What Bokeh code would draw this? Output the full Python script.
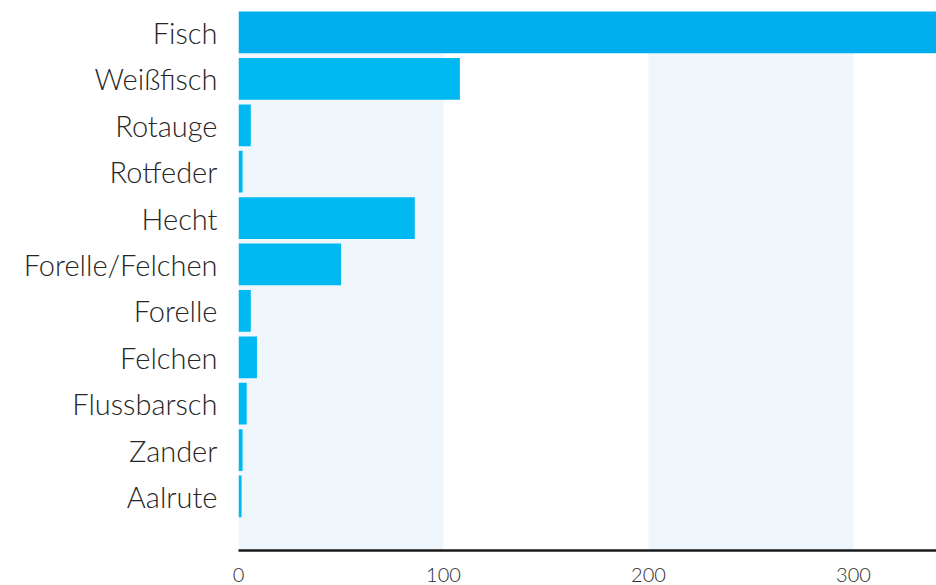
from bokeh.plotting import figure
from bokeh.models import Range1d, FixedTicker, ColumnDataSource
from bokeh.embed import file_html
from bokeh.resources import INLINE

categories = ["Fisch", "Weißfisch", "Rotauge", "Rotfeder", "Hecht", "Forelle/Felchen",
              "Forelle", "Felchen", "Flussbarsch", "Zander", "Aalrute"]
values = [420, 108, 6, 2, 86, 50, 6, 9, 4, 2, 1.5]
bar_colors = ["#00ADEE"] + ["#00B9F2"] * 10
x_ticks = [0, 100, 200, 300]
band_starts = [0, 200]
band_ends = [100, 300]

n = len(categories)
ypos = [n - 1 - i for i in range(n)]

p = figure(width=936, height=585, output_backend="svg", toolbar_location=None,
           x_range=Range1d(0, 340.5), y_range=Range1d(-1.164, n - 1 + 0.517),
           min_border_left=238, min_border_top=8, min_border_right=0, min_border_bottom=35)
p.outline_line_color = None
p.grid.visible = False
p.background_fill_color = "white"

p.quad(left=band_starts, right=band_ends, bottom=-1.2, top=n - 1,
       fill_color="#EFF7FD", line_color=None)

src = ColumnDataSource(dict(y=ypos, v=values, c=bar_colors))
p.hbar(y="y", right="v", left=0, height=0.9, fill_color="c", line_color=None, source=src)

p.yaxis.ticker = FixedTicker(ticks=ypos)
p.yaxis.major_label_overrides = {y: c for y, c in zip(ypos, categories)}
p.yaxis.axis_line_color = None
p.yaxis.major_tick_line_color = None
p.yaxis.minor_tick_line_color = None
p.yaxis.major_label_text_font = "Lato Light"
p.yaxis.major_label_text_font_size = "29px"
p.yaxis.major_label_text_color = "#262626"
p.yaxis.major_label_standoff = 15

p.xaxis.ticker = FixedTicker(ticks=x_ticks)
p.xaxis.axis_line_color = "#1a1a1a"
p.xaxis.axis_line_width = 2.5
p.xaxis.major_tick_line_color = None
p.xaxis.minor_tick_line_color = None
p.xaxis.major_label_text_font = "Lato Light"
p.xaxis.major_label_text_font_size = "20px"
p.xaxis.major_label_text_color = "#2e2e2e"
p.xaxis.major_label_standoff = 11

open("out.html", "w").write(file_html(p, INLINE))
